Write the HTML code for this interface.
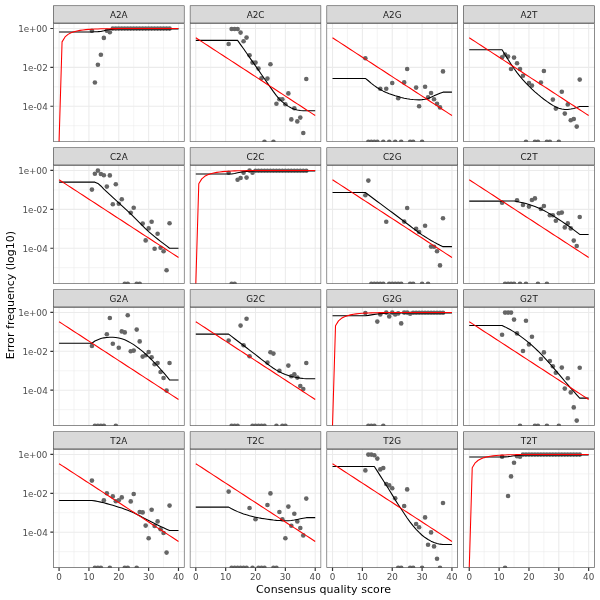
<!DOCTYPE html>
<html lang="en"><head><meta charset="utf-8"><title>Error rates</title>
<style>html,body{margin:0;padding:0;background:#fff}svg{display:block}text{font-family:"DejaVu Sans","Liberation Sans",sans-serif}</style></head><body>
<svg width="600" height="600" viewBox="0 0 600 600">
<rect width="600" height="600" fill="#fff"/>
<defs>
<clipPath id="p0"><rect x="53.1" y="23.25" width="131.37" height="118.6"/></clipPath>
<clipPath id="s0"><rect x="53.1" y="5.5" width="131.37" height="17.75"/></clipPath>
<clipPath id="p1"><rect x="189.82" y="23.25" width="131.37" height="118.6"/></clipPath>
<clipPath id="s1"><rect x="189.82" y="5.5" width="131.37" height="17.75"/></clipPath>
<clipPath id="p2"><rect x="326.55" y="23.25" width="131.37" height="118.6"/></clipPath>
<clipPath id="s2"><rect x="326.55" y="5.5" width="131.37" height="17.75"/></clipPath>
<clipPath id="p3"><rect x="463.27" y="23.25" width="131.37" height="118.6"/></clipPath>
<clipPath id="s3"><rect x="463.27" y="5.5" width="131.37" height="17.75"/></clipPath>
<clipPath id="p4"><rect x="53.1" y="165.22" width="131.37" height="118.6"/></clipPath>
<clipPath id="s4"><rect x="53.1" y="147.47" width="131.37" height="17.75"/></clipPath>
<clipPath id="p5"><rect x="189.82" y="165.22" width="131.37" height="118.6"/></clipPath>
<clipPath id="s5"><rect x="189.82" y="147.47" width="131.37" height="17.75"/></clipPath>
<clipPath id="p6"><rect x="326.55" y="165.22" width="131.37" height="118.6"/></clipPath>
<clipPath id="s6"><rect x="326.55" y="147.47" width="131.37" height="17.75"/></clipPath>
<clipPath id="p7"><rect x="463.27" y="165.22" width="131.37" height="118.6"/></clipPath>
<clipPath id="s7"><rect x="463.27" y="147.47" width="131.37" height="17.75"/></clipPath>
<clipPath id="p8"><rect x="53.1" y="307.19" width="131.37" height="118.6"/></clipPath>
<clipPath id="s8"><rect x="53.1" y="289.44" width="131.37" height="17.75"/></clipPath>
<clipPath id="p9"><rect x="189.82" y="307.19" width="131.37" height="118.6"/></clipPath>
<clipPath id="s9"><rect x="189.82" y="289.44" width="131.37" height="17.75"/></clipPath>
<clipPath id="p10"><rect x="326.55" y="307.19" width="131.37" height="118.6"/></clipPath>
<clipPath id="s10"><rect x="326.55" y="289.44" width="131.37" height="17.75"/></clipPath>
<clipPath id="p11"><rect x="463.27" y="307.19" width="131.37" height="118.6"/></clipPath>
<clipPath id="s11"><rect x="463.27" y="289.44" width="131.37" height="17.75"/></clipPath>
<clipPath id="p12"><rect x="53.1" y="449.16" width="131.37" height="118.6"/></clipPath>
<clipPath id="s12"><rect x="53.1" y="431.41" width="131.37" height="17.75"/></clipPath>
<clipPath id="p13"><rect x="189.82" y="449.16" width="131.37" height="118.6"/></clipPath>
<clipPath id="s13"><rect x="189.82" y="431.41" width="131.37" height="17.75"/></clipPath>
<clipPath id="p14"><rect x="326.55" y="449.16" width="131.37" height="118.6"/></clipPath>
<clipPath id="s14"><rect x="326.55" y="431.41" width="131.37" height="17.75"/></clipPath>
<clipPath id="p15"><rect x="463.27" y="449.16" width="131.37" height="118.6"/></clipPath>
<clipPath id="s15"><rect x="463.27" y="431.41" width="131.37" height="17.75"/></clipPath>
</defs>
<g clip-path="url(#p0)">
<path d="M74 23.25V141.85M103.86 23.25V141.85M133.71 23.25V141.85M163.57 23.25V141.85M53.1 47.94H184.47M53.1 86.82H184.47M53.1 125.7H184.47" stroke="#ebebeb" stroke-width="0.53" fill="none"/>
<path d="M59.07 23.25V141.85M88.93 23.25V141.85M118.78 23.25V141.85M148.64 23.25V141.85M178.5 23.25V141.85M53.1 28.5H184.47M53.1 67.38H184.47M53.1 106.26H184.47" stroke="#ebebeb" stroke-width="1.07" fill="none"/>
<g fill="#666"><circle cx="91.91" cy="30.8" r="2.31"/><circle cx="94.9" cy="82.5" r="2.31"/><circle cx="97.89" cy="64.7" r="2.31"/><circle cx="100.87" cy="54.7" r="2.31"/><circle cx="103.86" cy="37.9" r="2.31"/><circle cx="106.84" cy="30.7" r="2.31"/><circle cx="109.83" cy="32.2" r="2.31"/><circle cx="112.81" cy="28.6" r="2.31"/><circle cx="115.8" cy="28.6" r="2.31"/><circle cx="118.78" cy="28.6" r="2.31"/><circle cx="121.77" cy="28.6" r="2.31"/><circle cx="124.76" cy="28.6" r="2.31"/><circle cx="127.74" cy="28.6" r="2.31"/><circle cx="130.73" cy="28.6" r="2.31"/><circle cx="133.71" cy="28.6" r="2.31"/><circle cx="136.7" cy="28.6" r="2.31"/><circle cx="139.68" cy="28.6" r="2.31"/><circle cx="142.67" cy="28.6" r="2.31"/><circle cx="145.66" cy="28.6" r="2.31"/><circle cx="148.64" cy="28.6" r="2.31"/><circle cx="151.63" cy="28.6" r="2.31"/><circle cx="154.61" cy="28.6" r="2.31"/><circle cx="157.6" cy="28.6" r="2.31"/><circle cx="160.58" cy="28.6" r="2.31"/><circle cx="163.57" cy="28.6" r="2.31"/><circle cx="166.56" cy="28.6" r="2.31"/><circle cx="169.54" cy="28.6" r="2.31"/></g>
<polyline points="59.07,32 62.06,32 65.04,32 68.03,32 71.01,32 74,32 76.99,32 79.97,32 82.96,32 85.94,32 88.93,32 91.91,32 94.9,31.75 97.89,31.65 100.87,31.45 103.86,30.75 106.84,29.95 109.83,29.45 112.81,29.15 115.8,29 118.78,28.95 121.77,28.91 124.76,28.9 127.74,28.9 130.73,28.9 133.71,28.89 136.7,28.89 139.68,28.89 142.67,28.89 145.66,28.89 148.64,28.89 151.63,28.88 154.61,28.88 157.6,28.88 160.58,28.88 163.57,28.88 166.56,28.88 169.54,28.87 172.53,28.87 175.51,28.87 178.5,28.87" stroke="#000" stroke-width="1.07" fill="none" stroke-linejoin="round"/>
<polyline points="59.07,141.85 62.06,41.85 65.04,36.92 68.03,34.37 71.01,32.79 74,31.71 76.99,30.94 79.97,30.38 82.96,29.96 85.94,29.64 88.93,29.39 91.91,29.2 94.9,29.05 97.89,28.93 100.87,28.84 103.86,28.77 106.84,28.71 109.83,28.67 112.81,28.63 115.8,28.61 118.78,28.58 121.77,28.57 124.76,28.55 127.74,28.54 130.73,28.53 133.71,28.53 136.7,28.52 139.68,28.52 142.67,28.51 145.66,28.51 148.64,28.51 151.63,28.51 154.61,28.51 157.6,28.5 160.58,28.5 163.57,28.5 166.56,28.5 169.54,28.5 172.53,28.5 175.51,28.5 178.5,28.5" stroke="#f00" stroke-width="1.07" fill="none" stroke-linejoin="round"/>
<rect x="53.1" y="23.25" width="131.37" height="118.6" fill="none" stroke="#333" stroke-width="1.07"/>
</g>
<g clip-path="url(#s0)"><rect x="53.1" y="5.5" width="131.37" height="17.75" fill="#d9d9d9" stroke="#333" stroke-width="1.07"/></g>
<text x="118.78" y="18" font-size="8.8" fill="#1a1a1a" text-anchor="middle">A2A</text>
<text x="47.45" y="32" font-size="8.8" fill="#4d4d4d" text-anchor="end" textLength="29.28" lengthAdjust="spacing">1e+00</text>
<text x="47.8" y="71" font-size="8.8" fill="#4d4d4d" text-anchor="end">1e-02</text>
<text x="47.8" y="110" font-size="8.8" fill="#4d4d4d" text-anchor="end">1e-04</text>
<path d="M50.35 28.5H53.1M50.35 67.38H53.1M50.35 106.26H53.1" stroke="#333" stroke-width="1.2" fill="none"/>
<g clip-path="url(#p1)">
<path d="M210.72 23.25V141.85M240.58 23.25V141.85M270.44 23.25V141.85M300.3 23.25V141.85M189.82 47.94H321.19M189.82 86.82H321.19M189.82 125.7H321.19" stroke="#ebebeb" stroke-width="0.53" fill="none"/>
<path d="M195.8 23.25V141.85M225.65 23.25V141.85M255.51 23.25V141.85M285.37 23.25V141.85M315.22 23.25V141.85M189.82 28.5H321.19M189.82 67.38H321.19M189.82 106.26H321.19" stroke="#ebebeb" stroke-width="1.07" fill="none"/>
<g fill="#666"><circle cx="228.64" cy="44" r="2.31"/><circle cx="231.62" cy="29" r="2.31"/><circle cx="234.61" cy="29" r="2.31"/><circle cx="237.6" cy="29" r="2.31"/><circle cx="240.58" cy="32.6" r="2.31"/><circle cx="243.57" cy="41.2" r="2.31"/><circle cx="246.55" cy="37.6" r="2.31"/><circle cx="249.54" cy="55.2" r="2.31"/><circle cx="252.52" cy="62.6" r="2.31"/><circle cx="255.51" cy="62.6" r="2.31"/><circle cx="258.5" cy="68.6" r="2.31"/><circle cx="261.48" cy="78.2" r="2.31"/><circle cx="267.45" cy="78.6" r="2.31"/><circle cx="270.44" cy="64.2" r="2.31"/><circle cx="276.41" cy="103.8" r="2.31"/><circle cx="279.4" cy="99.2" r="2.31"/><circle cx="282.38" cy="99.2" r="2.31"/><circle cx="285.37" cy="104.2" r="2.31"/><circle cx="288.35" cy="93.4" r="2.31"/><circle cx="291.34" cy="119.4" r="2.31"/><circle cx="294.32" cy="108.2" r="2.31"/><circle cx="297.31" cy="121.4" r="2.31"/><circle cx="300.3" cy="117.6" r="2.31"/><circle cx="303.28" cy="133" r="2.31"/><circle cx="306.27" cy="79" r="2.31"/><circle cx="264.47" cy="141.85" r="2.31"/><circle cx="273.42" cy="141.85" r="2.31"/></g>
<polyline points="195.8,40.35 198.78,40.35 201.77,40.35 204.75,40.35 207.74,40.35 210.72,40.35 213.71,40.35 216.7,40.35 219.68,40.35 222.67,40.35 225.65,40.35 228.64,40.35 231.62,40.35 234.61,40.35 237.6,40.35 240.58,44.58 243.57,48.81 246.55,53.06 249.54,57.32 252.52,61.58 255.51,65.85 258.5,70.15 261.48,74.47 264.47,78.8 267.45,83.1 270.44,87.35 273.42,91.63 276.41,95.65 279.4,99.05 282.38,101.95 285.37,104.35 288.35,106.35 291.34,107.95 294.32,109.15 297.31,109.95 300.3,110.45 303.28,110.75 306.27,110.75 309.25,110.75 312.24,110.75 315.22,110.75" stroke="#000" stroke-width="1.07" fill="none" stroke-linejoin="round"/>
<polyline points="195.8,37.78 198.78,39.72 201.77,41.66 204.75,43.61 207.74,45.55 210.72,47.5 213.71,49.44 216.7,51.38 219.68,53.33 222.67,55.27 225.65,57.22 228.64,59.16 231.62,61.1 234.61,63.05 237.6,64.99 240.58,66.94 243.57,68.88 246.55,70.82 249.54,72.77 252.52,74.71 255.51,76.66 258.5,78.6 261.48,80.54 264.47,82.49 267.45,84.43 270.44,86.38 273.42,88.32 276.41,90.26 279.4,92.21 282.38,94.15 285.37,96.1 288.35,98.04 291.34,99.98 294.32,101.93 297.31,103.87 300.3,105.82 303.28,107.76 306.27,109.7 309.25,111.65 312.24,113.59 315.22,115.54" stroke="#f00" stroke-width="1.07" fill="none" stroke-linejoin="round"/>
<rect x="189.82" y="23.25" width="131.37" height="118.6" fill="none" stroke="#333" stroke-width="1.07"/>
</g>
<g clip-path="url(#s1)"><rect x="189.82" y="5.5" width="131.37" height="17.75" fill="#d9d9d9" stroke="#333" stroke-width="1.07"/></g>
<text x="255.51" y="18" font-size="8.8" fill="#1a1a1a" text-anchor="middle">A2C</text>
<g clip-path="url(#p2)">
<path d="M347.45 23.25V141.85M377.31 23.25V141.85M407.16 23.25V141.85M437.02 23.25V141.85M326.55 47.94H457.92M326.55 86.82H457.92M326.55 125.7H457.92" stroke="#ebebeb" stroke-width="0.53" fill="none"/>
<path d="M332.52 23.25V141.85M362.38 23.25V141.85M392.24 23.25V141.85M422.09 23.25V141.85M451.95 23.25V141.85M326.55 28.5H457.92M326.55 67.38H457.92M326.55 106.26H457.92" stroke="#ebebeb" stroke-width="1.07" fill="none"/>
<g fill="#666"><circle cx="365.36" cy="58.2" r="2.31"/><circle cx="380.29" cy="88.8" r="2.31"/><circle cx="386.26" cy="88.8" r="2.31"/><circle cx="392.24" cy="83" r="2.31"/><circle cx="398.21" cy="98.2" r="2.31"/><circle cx="404.18" cy="82.4" r="2.31"/><circle cx="407.16" cy="69" r="2.31"/><circle cx="416.12" cy="87.6" r="2.31"/><circle cx="419.11" cy="106.2" r="2.31"/><circle cx="425.08" cy="86.8" r="2.31"/><circle cx="428.06" cy="97.4" r="2.31"/><circle cx="431.05" cy="93" r="2.31"/><circle cx="434.03" cy="99.2" r="2.31"/><circle cx="437.02" cy="103.8" r="2.31"/><circle cx="440.01" cy="107.4" r="2.31"/><circle cx="442.99" cy="71.4" r="2.31"/><circle cx="368.35" cy="141.85" r="2.31"/><circle cx="371.34" cy="141.85" r="2.31"/><circle cx="374.32" cy="141.85" r="2.31"/><circle cx="377.31" cy="141.85" r="2.31"/><circle cx="383.28" cy="141.85" r="2.31"/><circle cx="389.25" cy="141.85" r="2.31"/><circle cx="395.22" cy="141.85" r="2.31"/><circle cx="401.19" cy="141.85" r="2.31"/><circle cx="410.15" cy="141.85" r="2.31"/><circle cx="413.13" cy="141.85" r="2.31"/><circle cx="422.09" cy="141.85" r="2.31"/></g>
<polyline points="332.52,78.45 335.51,78.45 338.49,78.45 341.48,78.45 344.46,78.45 347.45,78.45 350.44,78.45 353.42,78.45 356.41,78.45 359.39,78.45 362.38,78.45 365.36,78.45 368.35,80.75 371.34,83.35 374.32,85.65 377.31,87.75 380.29,89.55 383.28,91.15 386.26,92.45 389.25,93.65 392.24,94.65 395.22,95.65 398.21,96.55 401.19,97.45 404.18,98.15 407.16,98.75 410.15,99.25 413.13,99.55 416.12,99.75 419.11,99.85 422.09,99.65 425.08,99.25 428.06,98.45 431.05,97.15 434.03,95.85 437.02,94.45 440.01,93.15 442.99,92.15 445.98,92.15 448.96,92.15 451.95,92.15" stroke="#000" stroke-width="1.07" fill="none" stroke-linejoin="round"/>
<polyline points="332.52,37.78 335.51,39.72 338.49,41.66 341.48,43.61 344.46,45.55 347.45,47.5 350.44,49.44 353.42,51.38 356.41,53.33 359.39,55.27 362.38,57.22 365.36,59.16 368.35,61.1 371.34,63.05 374.32,64.99 377.31,66.94 380.29,68.88 383.28,70.82 386.26,72.77 389.25,74.71 392.24,76.66 395.22,78.6 398.21,80.54 401.19,82.49 404.18,84.43 407.16,86.38 410.15,88.32 413.13,90.26 416.12,92.21 419.11,94.15 422.09,96.1 425.08,98.04 428.06,99.98 431.05,101.93 434.03,103.87 437.02,105.82 440.01,107.76 442.99,109.7 445.98,111.65 448.96,113.59 451.95,115.54" stroke="#f00" stroke-width="1.07" fill="none" stroke-linejoin="round"/>
<rect x="326.55" y="23.25" width="131.37" height="118.6" fill="none" stroke="#333" stroke-width="1.07"/>
</g>
<g clip-path="url(#s2)"><rect x="326.55" y="5.5" width="131.37" height="17.75" fill="#d9d9d9" stroke="#333" stroke-width="1.07"/></g>
<text x="392.24" y="18" font-size="8.8" fill="#1a1a1a" text-anchor="middle">A2G</text>
<g clip-path="url(#p3)">
<path d="M484.17 23.25V141.85M514.03 23.25V141.85M543.89 23.25V141.85M573.75 23.25V141.85M463.27 47.94H594.64M463.27 86.82H594.64M463.27 125.7H594.64" stroke="#ebebeb" stroke-width="0.53" fill="none"/>
<path d="M469.25 23.25V141.85M499.1 23.25V141.85M528.96 23.25V141.85M558.82 23.25V141.85M588.67 23.25V141.85M463.27 28.5H594.64M463.27 67.38H594.64M463.27 106.26H594.64" stroke="#ebebeb" stroke-width="1.07" fill="none"/>
<g fill="#666"><circle cx="502.09" cy="57.2" r="2.31"/><circle cx="505.07" cy="54.6" r="2.31"/><circle cx="508.06" cy="56.6" r="2.31"/><circle cx="511.05" cy="69" r="2.31"/><circle cx="514.03" cy="57.6" r="2.31"/><circle cx="517.02" cy="63.2" r="2.31"/><circle cx="520" cy="69" r="2.31"/><circle cx="522.99" cy="75.8" r="2.31"/><circle cx="528.96" cy="83" r="2.31"/><circle cx="531.95" cy="85.6" r="2.31"/><circle cx="540.9" cy="82.6" r="2.31"/><circle cx="543.89" cy="71" r="2.31"/><circle cx="552.85" cy="99.6" r="2.31"/><circle cx="555.83" cy="108.6" r="2.31"/><circle cx="561.8" cy="91.8" r="2.31"/><circle cx="564.79" cy="113.6" r="2.31"/><circle cx="567.77" cy="104.4" r="2.31"/><circle cx="570.76" cy="120.2" r="2.31"/><circle cx="573.75" cy="119" r="2.31"/><circle cx="576.73" cy="126.6" r="2.31"/><circle cx="579.72" cy="79.6" r="2.31"/><circle cx="525.97" cy="141.85" r="2.31"/><circle cx="534.93" cy="141.85" r="2.31"/><circle cx="537.92" cy="141.85" r="2.31"/><circle cx="546.87" cy="141.85" r="2.31"/><circle cx="549.86" cy="141.85" r="2.31"/><circle cx="558.82" cy="141.85" r="2.31"/></g>
<polyline points="469.25,49.75 472.23,49.75 475.22,49.75 478.2,49.75 481.19,49.75 484.17,49.75 487.16,49.75 490.15,49.75 493.13,49.75 496.12,49.75 499.1,49.75 502.09,49.75 505.07,54.68 508.06,59.45 511.05,64.12 514.03,68.55 517.02,72.66 520,76.45 522.99,79.89 525.97,83.09 528.96,86.15 531.95,89.09 534.93,91.85 537.92,94.45 540.9,96.92 543.89,99.25 546.87,101.43 549.86,103.45 552.85,105.4 555.83,107.05 558.82,108.15 561.8,109.05 564.79,109.45 567.77,109.45 570.76,109.05 573.75,108.45 576.73,107.45 579.72,106.45 582.7,106.45 585.69,106.45 588.67,106.45" stroke="#000" stroke-width="1.07" fill="none" stroke-linejoin="round"/>
<polyline points="469.25,37.78 472.23,39.72 475.22,41.66 478.2,43.61 481.19,45.55 484.17,47.5 487.16,49.44 490.15,51.38 493.13,53.33 496.12,55.27 499.1,57.22 502.09,59.16 505.07,61.1 508.06,63.05 511.05,64.99 514.03,66.94 517.02,68.88 520,70.82 522.99,72.77 525.97,74.71 528.96,76.66 531.95,78.6 534.93,80.54 537.92,82.49 540.9,84.43 543.89,86.38 546.87,88.32 549.86,90.26 552.85,92.21 555.83,94.15 558.82,96.1 561.8,98.04 564.79,99.98 567.77,101.93 570.76,103.87 573.75,105.82 576.73,107.76 579.72,109.7 582.7,111.65 585.69,113.59 588.67,115.54" stroke="#f00" stroke-width="1.07" fill="none" stroke-linejoin="round"/>
<rect x="463.27" y="23.25" width="131.37" height="118.6" fill="none" stroke="#333" stroke-width="1.07"/>
</g>
<g clip-path="url(#s3)"><rect x="463.27" y="5.5" width="131.37" height="17.75" fill="#d9d9d9" stroke="#333" stroke-width="1.07"/></g>
<text x="528.96" y="18" font-size="8.8" fill="#1a1a1a" text-anchor="middle">A2T</text>
<g clip-path="url(#p4)">
<path d="M74 165.22V283.82M103.86 165.22V283.82M133.71 165.22V283.82M163.57 165.22V283.82M53.1 189.91H184.47M53.1 228.79H184.47M53.1 267.67H184.47" stroke="#ebebeb" stroke-width="0.53" fill="none"/>
<path d="M59.07 165.22V283.82M88.93 165.22V283.82M118.78 165.22V283.82M148.64 165.22V283.82M178.5 165.22V283.82M53.1 170.47H184.47M53.1 209.35H184.47M53.1 248.23H184.47" stroke="#ebebeb" stroke-width="1.07" fill="none"/>
<g fill="#666"><circle cx="91.91" cy="189.6" r="2.31"/><circle cx="94.9" cy="173.8" r="2.31"/><circle cx="97.89" cy="170.6" r="2.31"/><circle cx="100.87" cy="174" r="2.31"/><circle cx="103.86" cy="175.2" r="2.31"/><circle cx="106.84" cy="186.6" r="2.31"/><circle cx="109.83" cy="175.4" r="2.31"/><circle cx="112.81" cy="204.2" r="2.31"/><circle cx="115.8" cy="184.2" r="2.31"/><circle cx="118.78" cy="203.8" r="2.31"/><circle cx="121.77" cy="199.2" r="2.31"/><circle cx="130.73" cy="212.8" r="2.31"/><circle cx="133.71" cy="207.8" r="2.31"/><circle cx="142.67" cy="223.6" r="2.31"/><circle cx="145.66" cy="240.4" r="2.31"/><circle cx="148.64" cy="228.4" r="2.31"/><circle cx="151.63" cy="221.8" r="2.31"/><circle cx="154.61" cy="248.8" r="2.31"/><circle cx="157.6" cy="233.8" r="2.31"/><circle cx="160.58" cy="247.8" r="2.31"/><circle cx="163.57" cy="251.2" r="2.31"/><circle cx="166.56" cy="270.2" r="2.31"/><circle cx="169.54" cy="223.2" r="2.31"/><circle cx="124.76" cy="283.82" r="2.31"/><circle cx="127.74" cy="283.82" r="2.31"/><circle cx="136.7" cy="283.82" r="2.31"/><circle cx="139.68" cy="283.82" r="2.31"/></g>
<polyline points="59.07,182.15 62.06,182.15 65.04,182.15 68.03,182.15 71.01,182.15 74,182.15 76.99,182.15 79.97,182.15 82.96,182.15 85.94,182.15 88.93,182.15 91.91,182.15 94.9,182.15 97.89,183.45 100.87,185.98 103.86,189.05 106.84,191.83 109.83,194.59 112.81,197.34 115.8,200.1 118.78,202.85 121.77,205.58 124.76,208.28 127.74,211.02 130.73,213.85 133.71,216.85 136.7,219.86 139.68,222.89 142.67,225.89 145.66,228.8 148.64,231.55 151.63,234.13 154.61,236.6 157.6,238.98 160.58,241.32 163.57,243.65 166.56,245.95 169.54,248.2 172.53,248.2 175.51,248.2 178.5,248.2" stroke="#000" stroke-width="1.07" fill="none" stroke-linejoin="round"/>
<polyline points="59.07,179.75 62.06,181.69 65.04,183.63 68.03,185.58 71.01,187.52 74,189.47 76.99,191.41 79.97,193.35 82.96,195.3 85.94,197.24 88.93,199.19 91.91,201.13 94.9,203.07 97.89,205.02 100.87,206.96 103.86,208.91 106.84,210.85 109.83,212.79 112.81,214.74 115.8,216.68 118.78,218.63 121.77,220.57 124.76,222.51 127.74,224.46 130.73,226.4 133.71,228.35 136.7,230.29 139.68,232.23 142.67,234.18 145.66,236.12 148.64,238.07 151.63,240.01 154.61,241.95 157.6,243.9 160.58,245.84 163.57,247.79 166.56,249.73 169.54,251.67 172.53,253.62 175.51,255.56 178.5,257.51" stroke="#f00" stroke-width="1.07" fill="none" stroke-linejoin="round"/>
<rect x="53.1" y="165.22" width="131.37" height="118.6" fill="none" stroke="#333" stroke-width="1.07"/>
</g>
<g clip-path="url(#s4)"><rect x="53.1" y="147.47" width="131.37" height="17.75" fill="#d9d9d9" stroke="#333" stroke-width="1.07"/></g>
<text x="118.78" y="160" font-size="8.8" fill="#1a1a1a" text-anchor="middle">C2A</text>
<text x="47.45" y="174" font-size="8.8" fill="#4d4d4d" text-anchor="end" textLength="29.28" lengthAdjust="spacing">1e+00</text>
<text x="47.8" y="213" font-size="8.8" fill="#4d4d4d" text-anchor="end">1e-02</text>
<text x="47.8" y="252" font-size="8.8" fill="#4d4d4d" text-anchor="end">1e-04</text>
<path d="M50.35 170.47H53.1M50.35 209.35H53.1M50.35 248.23H53.1" stroke="#333" stroke-width="1.2" fill="none"/>
<g clip-path="url(#p5)">
<path d="M210.72 165.22V283.82M240.58 165.22V283.82M270.44 165.22V283.82M300.3 165.22V283.82M189.82 189.91H321.19M189.82 228.79H321.19M189.82 267.67H321.19" stroke="#ebebeb" stroke-width="0.53" fill="none"/>
<path d="M195.8 165.22V283.82M225.65 165.22V283.82M255.51 165.22V283.82M285.37 165.22V283.82M315.22 165.22V283.82M189.82 170.47H321.19M189.82 209.35H321.19M189.82 248.23H321.19" stroke="#ebebeb" stroke-width="1.07" fill="none"/>
<g fill="#666"><circle cx="228.64" cy="172.8" r="2.31"/><circle cx="237.6" cy="179.8" r="2.31"/><circle cx="240.58" cy="178" r="2.31"/><circle cx="243.57" cy="172.8" r="2.31"/><circle cx="246.55" cy="177.6" r="2.31"/><circle cx="249.54" cy="170.6" r="2.31"/><circle cx="252.52" cy="172.8" r="2.31"/><circle cx="255.51" cy="170.7" r="2.31"/><circle cx="258.5" cy="170.7" r="2.31"/><circle cx="261.48" cy="170.7" r="2.31"/><circle cx="264.47" cy="170.7" r="2.31"/><circle cx="267.45" cy="170.7" r="2.31"/><circle cx="270.44" cy="170.7" r="2.31"/><circle cx="273.42" cy="170.7" r="2.31"/><circle cx="276.41" cy="170.7" r="2.31"/><circle cx="279.4" cy="170.7" r="2.31"/><circle cx="282.38" cy="170.7" r="2.31"/><circle cx="285.37" cy="170.7" r="2.31"/><circle cx="288.35" cy="170.7" r="2.31"/><circle cx="291.34" cy="170.7" r="2.31"/><circle cx="294.32" cy="170.7" r="2.31"/><circle cx="297.31" cy="170.7" r="2.31"/><circle cx="300.3" cy="170.7" r="2.31"/><circle cx="303.28" cy="170.7" r="2.31"/><circle cx="306.27" cy="170.7" r="2.31"/><circle cx="231.62" cy="283.82" r="2.31"/><circle cx="234.61" cy="283.82" r="2.31"/></g>
<polyline points="195.8,174 198.78,174 201.77,174 204.75,174 207.74,174 210.72,174 213.71,174 216.7,174 219.68,174 222.67,174 225.65,174 228.64,174 231.62,173.95 234.61,173.45 237.6,172.75 240.58,172.15 243.57,171.75 246.55,171.45 249.54,171.25 252.52,171.1 255.51,171.02 258.5,170.97 261.48,170.95 264.47,170.95 267.45,170.94 270.44,170.94 273.42,170.94 276.41,170.94 279.4,170.93 282.38,170.93 285.37,170.93 288.35,170.93 291.34,170.92 294.32,170.92 297.31,170.92 300.3,170.91 303.28,170.91 306.27,170.91 309.25,170.91 312.24,170.9 315.22,170.9" stroke="#000" stroke-width="1.07" fill="none" stroke-linejoin="round"/>
<polyline points="195.8,283.82 198.78,183.82 201.77,178.89 204.75,176.34 207.74,174.76 210.72,173.68 213.71,172.91 216.7,172.35 219.68,171.93 222.67,171.61 225.65,171.36 228.64,171.17 231.62,171.02 234.61,170.9 237.6,170.81 240.58,170.74 243.57,170.68 246.55,170.64 249.54,170.6 252.52,170.58 255.51,170.55 258.5,170.54 261.48,170.52 264.47,170.51 267.45,170.5 270.44,170.5 273.42,170.49 276.41,170.49 279.4,170.48 282.38,170.48 285.37,170.48 288.35,170.48 291.34,170.48 294.32,170.47 297.31,170.47 300.3,170.47 303.28,170.47 306.27,170.47 309.25,170.47 312.24,170.47 315.22,170.47" stroke="#f00" stroke-width="1.07" fill="none" stroke-linejoin="round"/>
<rect x="189.82" y="165.22" width="131.37" height="118.6" fill="none" stroke="#333" stroke-width="1.07"/>
</g>
<g clip-path="url(#s5)"><rect x="189.82" y="147.47" width="131.37" height="17.75" fill="#d9d9d9" stroke="#333" stroke-width="1.07"/></g>
<text x="255.51" y="160" font-size="8.8" fill="#1a1a1a" text-anchor="middle">C2C</text>
<g clip-path="url(#p6)">
<path d="M347.45 165.22V283.82M377.31 165.22V283.82M407.16 165.22V283.82M437.02 165.22V283.82M326.55 189.91H457.92M326.55 228.79H457.92M326.55 267.67H457.92" stroke="#ebebeb" stroke-width="0.53" fill="none"/>
<path d="M332.52 165.22V283.82M362.38 165.22V283.82M392.24 165.22V283.82M422.09 165.22V283.82M451.95 165.22V283.82M326.55 170.47H457.92M326.55 209.35H457.92M326.55 248.23H457.92" stroke="#ebebeb" stroke-width="1.07" fill="none"/>
<g fill="#666"><circle cx="365.36" cy="195.2" r="2.31"/><circle cx="368.35" cy="180.6" r="2.31"/><circle cx="386.26" cy="221.8" r="2.31"/><circle cx="404.18" cy="221.6" r="2.31"/><circle cx="407.16" cy="208" r="2.31"/><circle cx="416.12" cy="228.8" r="2.31"/><circle cx="419.11" cy="232" r="2.31"/><circle cx="425.08" cy="225.8" r="2.31"/><circle cx="431.05" cy="246.6" r="2.31"/><circle cx="434.03" cy="246.8" r="2.31"/><circle cx="437.02" cy="251.2" r="2.31"/><circle cx="440.01" cy="265.4" r="2.31"/><circle cx="442.99" cy="218.2" r="2.31"/><circle cx="371.34" cy="283.82" r="2.31"/><circle cx="374.32" cy="283.82" r="2.31"/><circle cx="377.31" cy="283.82" r="2.31"/><circle cx="380.29" cy="283.82" r="2.31"/><circle cx="383.28" cy="283.82" r="2.31"/><circle cx="389.25" cy="283.82" r="2.31"/><circle cx="392.24" cy="283.82" r="2.31"/><circle cx="395.22" cy="283.82" r="2.31"/><circle cx="398.21" cy="283.82" r="2.31"/><circle cx="401.19" cy="283.82" r="2.31"/><circle cx="410.15" cy="283.82" r="2.31"/><circle cx="413.13" cy="283.82" r="2.31"/><circle cx="422.09" cy="283.82" r="2.31"/><circle cx="428.06" cy="283.82" r="2.31"/></g>
<polyline points="332.52,192.45 335.51,192.45 338.49,192.45 341.48,192.45 344.46,192.45 347.45,192.45 350.44,192.45 353.42,192.45 356.41,192.45 359.39,192.45 362.38,192.45 365.36,192.45 368.35,194.71 371.34,196.96 374.32,199.21 377.31,201.45 380.29,203.68 383.28,205.9 386.26,208.11 389.25,210.33 392.24,212.55 395.22,214.78 398.21,217.02 401.19,219.25 404.18,221.5 407.16,223.75 410.15,226.03 413.13,228.31 416.12,230.55 419.11,232.75 422.09,234.85 425.08,236.81 428.06,238.67 431.05,240.45 434.03,242.15 437.02,243.75 440.01,245.25 442.99,246.65 445.98,246.65 448.96,246.65 451.95,246.65" stroke="#000" stroke-width="1.07" fill="none" stroke-linejoin="round"/>
<polyline points="332.52,179.75 335.51,181.69 338.49,183.63 341.48,185.58 344.46,187.52 347.45,189.47 350.44,191.41 353.42,193.35 356.41,195.3 359.39,197.24 362.38,199.19 365.36,201.13 368.35,203.07 371.34,205.02 374.32,206.96 377.31,208.91 380.29,210.85 383.28,212.79 386.26,214.74 389.25,216.68 392.24,218.63 395.22,220.57 398.21,222.51 401.19,224.46 404.18,226.4 407.16,228.35 410.15,230.29 413.13,232.23 416.12,234.18 419.11,236.12 422.09,238.07 425.08,240.01 428.06,241.95 431.05,243.9 434.03,245.84 437.02,247.79 440.01,249.73 442.99,251.67 445.98,253.62 448.96,255.56 451.95,257.51" stroke="#f00" stroke-width="1.07" fill="none" stroke-linejoin="round"/>
<rect x="326.55" y="165.22" width="131.37" height="118.6" fill="none" stroke="#333" stroke-width="1.07"/>
</g>
<g clip-path="url(#s6)"><rect x="326.55" y="147.47" width="131.37" height="17.75" fill="#d9d9d9" stroke="#333" stroke-width="1.07"/></g>
<text x="392.24" y="160" font-size="8.8" fill="#1a1a1a" text-anchor="middle">C2G</text>
<g clip-path="url(#p7)">
<path d="M484.17 165.22V283.82M514.03 165.22V283.82M543.89 165.22V283.82M573.75 165.22V283.82M463.27 189.91H594.64M463.27 228.79H594.64M463.27 267.67H594.64" stroke="#ebebeb" stroke-width="0.53" fill="none"/>
<path d="M469.25 165.22V283.82M499.1 165.22V283.82M528.96 165.22V283.82M558.82 165.22V283.82M588.67 165.22V283.82M463.27 170.47H594.64M463.27 209.35H594.64M463.27 248.23H594.64" stroke="#ebebeb" stroke-width="1.07" fill="none"/>
<g fill="#666"><circle cx="502.09" cy="202.8" r="2.31"/><circle cx="517.02" cy="200.2" r="2.31"/><circle cx="522.99" cy="205" r="2.31"/><circle cx="528.96" cy="206.6" r="2.31"/><circle cx="531.95" cy="200" r="2.31"/><circle cx="534.93" cy="198.4" r="2.31"/><circle cx="540.9" cy="209" r="2.31"/><circle cx="543.89" cy="206" r="2.31"/><circle cx="549.86" cy="215.2" r="2.31"/><circle cx="552.85" cy="215.2" r="2.31"/><circle cx="555.83" cy="220.8" r="2.31"/><circle cx="558.82" cy="213.2" r="2.31"/><circle cx="561.8" cy="212.6" r="2.31"/><circle cx="564.79" cy="227.4" r="2.31"/><circle cx="567.77" cy="223.4" r="2.31"/><circle cx="570.76" cy="228.4" r="2.31"/><circle cx="573.75" cy="240.6" r="2.31"/><circle cx="576.73" cy="246" r="2.31"/><circle cx="579.72" cy="217" r="2.31"/><circle cx="505.07" cy="283.82" r="2.31"/><circle cx="508.06" cy="283.82" r="2.31"/><circle cx="511.05" cy="283.82" r="2.31"/><circle cx="514.03" cy="283.82" r="2.31"/><circle cx="520" cy="283.82" r="2.31"/><circle cx="525.97" cy="283.82" r="2.31"/><circle cx="537.92" cy="283.82" r="2.31"/><circle cx="546.87" cy="283.82" r="2.31"/></g>
<polyline points="469.25,201.15 472.23,201.15 475.22,201.15 478.2,201.15 481.19,201.15 484.17,201.15 487.16,201.15 490.15,201.15 493.13,201.15 496.12,201.15 499.1,201.15 502.09,201.15 505.07,201.01 508.06,200.95 511.05,200.98 514.03,201.05 517.02,201.46 520,202.15 522.99,202.83 525.97,203.6 528.96,204.45 531.95,205.43 534.93,206.55 537.92,207.77 540.9,209.11 543.89,210.55 546.87,212.14 549.86,213.85 552.85,215.65 555.83,217.53 558.82,219.45 561.8,221.42 564.79,223.45 567.77,225.53 570.76,227.66 573.75,229.85 576.73,232.11 579.72,234.45 582.7,234.45 585.69,234.45 588.67,234.45" stroke="#000" stroke-width="1.07" fill="none" stroke-linejoin="round"/>
<polyline points="469.25,179.75 472.23,181.69 475.22,183.63 478.2,185.58 481.19,187.52 484.17,189.47 487.16,191.41 490.15,193.35 493.13,195.3 496.12,197.24 499.1,199.19 502.09,201.13 505.07,203.07 508.06,205.02 511.05,206.96 514.03,208.91 517.02,210.85 520,212.79 522.99,214.74 525.97,216.68 528.96,218.63 531.95,220.57 534.93,222.51 537.92,224.46 540.9,226.4 543.89,228.35 546.87,230.29 549.86,232.23 552.85,234.18 555.83,236.12 558.82,238.07 561.8,240.01 564.79,241.95 567.77,243.9 570.76,245.84 573.75,247.79 576.73,249.73 579.72,251.67 582.7,253.62 585.69,255.56 588.67,257.51" stroke="#f00" stroke-width="1.07" fill="none" stroke-linejoin="round"/>
<rect x="463.27" y="165.22" width="131.37" height="118.6" fill="none" stroke="#333" stroke-width="1.07"/>
</g>
<g clip-path="url(#s7)"><rect x="463.27" y="147.47" width="131.37" height="17.75" fill="#d9d9d9" stroke="#333" stroke-width="1.07"/></g>
<text x="528.96" y="160" font-size="8.8" fill="#1a1a1a" text-anchor="middle">C2T</text>
<g clip-path="url(#p8)">
<path d="M74 307.19V425.79M103.86 307.19V425.79M133.71 307.19V425.79M163.57 307.19V425.79M53.1 331.88H184.47M53.1 370.76H184.47M53.1 409.64H184.47" stroke="#ebebeb" stroke-width="0.53" fill="none"/>
<path d="M59.07 307.19V425.79M88.93 307.19V425.79M118.78 307.19V425.79M148.64 307.19V425.79M178.5 307.19V425.79M53.1 312.44H184.47M53.1 351.32H184.47M53.1 390.2H184.47" stroke="#ebebeb" stroke-width="1.07" fill="none"/>
<g fill="#666"><circle cx="91.91" cy="346" r="2.31"/><circle cx="106.84" cy="334.2" r="2.31"/><circle cx="109.83" cy="318" r="2.31"/><circle cx="112.81" cy="343.8" r="2.31"/><circle cx="118.78" cy="347.8" r="2.31"/><circle cx="121.77" cy="331.4" r="2.31"/><circle cx="124.76" cy="332.4" r="2.31"/><circle cx="127.74" cy="315.2" r="2.31"/><circle cx="130.73" cy="351.2" r="2.31"/><circle cx="133.71" cy="350.6" r="2.31"/><circle cx="136.7" cy="329.6" r="2.31"/><circle cx="139.68" cy="341.4" r="2.31"/><circle cx="142.67" cy="356.6" r="2.31"/><circle cx="145.66" cy="355.2" r="2.31"/><circle cx="148.64" cy="352" r="2.31"/><circle cx="151.63" cy="357.2" r="2.31"/><circle cx="154.61" cy="364.2" r="2.31"/><circle cx="157.6" cy="363" r="2.31"/><circle cx="160.58" cy="372" r="2.31"/><circle cx="163.57" cy="378" r="2.31"/><circle cx="166.56" cy="390.6" r="2.31"/><circle cx="169.54" cy="363" r="2.31"/><circle cx="94.9" cy="425.79" r="2.31"/><circle cx="97.89" cy="425.79" r="2.31"/><circle cx="100.87" cy="425.79" r="2.31"/><circle cx="103.86" cy="425.79" r="2.31"/><circle cx="115.8" cy="425.79" r="2.31"/></g>
<polyline points="59.07,343.25 62.06,343.25 65.04,343.25 68.03,343.25 71.01,343.25 74,343.25 76.99,343.25 79.97,343.25 82.96,343.25 85.94,343.25 88.93,343.25 91.91,343.25 94.9,341.05 97.89,339.65 100.87,338.55 103.86,337.85 106.84,337.45 109.83,337.25 112.81,337.25 115.8,337.45 118.78,338.05 121.77,338.85 124.76,339.85 127.74,341.25 130.73,342.85 133.71,344.65 136.7,346.85 139.68,349.05 142.67,351.45 145.66,354.05 148.64,356.85 151.63,359.75 154.61,362.85 157.6,365.85 160.58,369.25 163.57,372.55 166.56,376.15 169.54,379.95 172.53,379.95 175.51,379.95 178.5,379.95" stroke="#000" stroke-width="1.07" fill="none" stroke-linejoin="round"/>
<polyline points="59.07,321.72 62.06,323.66 65.04,325.6 68.03,327.55 71.01,329.49 74,331.44 76.99,333.38 79.97,335.32 82.96,337.27 85.94,339.21 88.93,341.16 91.91,343.1 94.9,345.04 97.89,346.99 100.87,348.93 103.86,350.88 106.84,352.82 109.83,354.76 112.81,356.71 115.8,358.65 118.78,360.6 121.77,362.54 124.76,364.48 127.74,366.43 130.73,368.37 133.71,370.32 136.7,372.26 139.68,374.2 142.67,376.15 145.66,378.09 148.64,380.04 151.63,381.98 154.61,383.92 157.6,385.87 160.58,387.81 163.57,389.76 166.56,391.7 169.54,393.64 172.53,395.59 175.51,397.53 178.5,399.48" stroke="#f00" stroke-width="1.07" fill="none" stroke-linejoin="round"/>
<rect x="53.1" y="307.19" width="131.37" height="118.6" fill="none" stroke="#333" stroke-width="1.07"/>
</g>
<g clip-path="url(#s8)"><rect x="53.1" y="289.44" width="131.37" height="17.75" fill="#d9d9d9" stroke="#333" stroke-width="1.07"/></g>
<text x="118.78" y="302" font-size="8.8" fill="#1a1a1a" text-anchor="middle">G2A</text>
<text x="47.45" y="316" font-size="8.8" fill="#4d4d4d" text-anchor="end" textLength="29.28" lengthAdjust="spacing">1e+00</text>
<text x="47.8" y="355" font-size="8.8" fill="#4d4d4d" text-anchor="end">1e-02</text>
<text x="47.8" y="394" font-size="8.8" fill="#4d4d4d" text-anchor="end">1e-04</text>
<path d="M50.35 312.44H53.1M50.35 351.32H53.1M50.35 390.2H53.1" stroke="#333" stroke-width="1.2" fill="none"/>
<g clip-path="url(#p9)">
<path d="M210.72 307.19V425.79M240.58 307.19V425.79M270.44 307.19V425.79M300.3 307.19V425.79M189.82 331.88H321.19M189.82 370.76H321.19M189.82 409.64H321.19" stroke="#ebebeb" stroke-width="0.53" fill="none"/>
<path d="M195.8 307.19V425.79M225.65 307.19V425.79M255.51 307.19V425.79M285.37 307.19V425.79M315.22 307.19V425.79M189.82 312.44H321.19M189.82 351.32H321.19M189.82 390.2H321.19" stroke="#ebebeb" stroke-width="1.07" fill="none"/>
<g fill="#666"><circle cx="228.64" cy="340.6" r="2.31"/><circle cx="240.58" cy="325.6" r="2.31"/><circle cx="243.57" cy="345.2" r="2.31"/><circle cx="246.55" cy="318.8" r="2.31"/><circle cx="249.54" cy="356.2" r="2.31"/><circle cx="267.45" cy="362.6" r="2.31"/><circle cx="270.44" cy="352.2" r="2.31"/><circle cx="273.42" cy="353.6" r="2.31"/><circle cx="279.4" cy="370.8" r="2.31"/><circle cx="288.35" cy="365.6" r="2.31"/><circle cx="291.34" cy="376.2" r="2.31"/><circle cx="294.32" cy="374.2" r="2.31"/><circle cx="297.31" cy="377.6" r="2.31"/><circle cx="300.3" cy="386" r="2.31"/><circle cx="303.28" cy="389" r="2.31"/><circle cx="306.27" cy="363" r="2.31"/><circle cx="231.62" cy="425.79" r="2.31"/><circle cx="234.61" cy="425.79" r="2.31"/><circle cx="237.6" cy="425.79" r="2.31"/><circle cx="252.52" cy="425.79" r="2.31"/><circle cx="255.51" cy="425.79" r="2.31"/><circle cx="258.5" cy="425.79" r="2.31"/><circle cx="261.48" cy="425.79" r="2.31"/><circle cx="264.47" cy="425.79" r="2.31"/><circle cx="276.41" cy="425.79" r="2.31"/><circle cx="282.38" cy="425.79" r="2.31"/><circle cx="285.37" cy="425.79" r="2.31"/></g>
<polyline points="195.8,334.15 198.78,334.15 201.77,334.15 204.75,334.15 207.74,334.15 210.72,334.15 213.71,334.15 216.7,334.15 219.68,334.15 222.67,334.15 225.65,334.15 228.64,334.15 231.62,336.42 234.61,338.7 237.6,340.97 240.58,343.25 243.57,345.53 246.55,347.8 249.54,350.08 252.52,352.36 255.51,354.65 258.5,356.97 261.48,359.33 264.47,361.68 267.45,363.96 270.44,366.15 273.42,368.22 276.41,370.15 279.4,371.85 282.38,373.25 285.37,374.45 288.35,375.45 291.34,376.45 294.32,377.05 297.31,377.65 300.3,378.15 303.28,378.55 306.27,378.75 309.25,378.75 312.24,378.75 315.22,378.75" stroke="#000" stroke-width="1.07" fill="none" stroke-linejoin="round"/>
<polyline points="195.8,321.72 198.78,323.66 201.77,325.6 204.75,327.55 207.74,329.49 210.72,331.44 213.71,333.38 216.7,335.32 219.68,337.27 222.67,339.21 225.65,341.16 228.64,343.1 231.62,345.04 234.61,346.99 237.6,348.93 240.58,350.88 243.57,352.82 246.55,354.76 249.54,356.71 252.52,358.65 255.51,360.6 258.5,362.54 261.48,364.48 264.47,366.43 267.45,368.37 270.44,370.32 273.42,372.26 276.41,374.2 279.4,376.15 282.38,378.09 285.37,380.04 288.35,381.98 291.34,383.92 294.32,385.87 297.31,387.81 300.3,389.76 303.28,391.7 306.27,393.64 309.25,395.59 312.24,397.53 315.22,399.48" stroke="#f00" stroke-width="1.07" fill="none" stroke-linejoin="round"/>
<rect x="189.82" y="307.19" width="131.37" height="118.6" fill="none" stroke="#333" stroke-width="1.07"/>
</g>
<g clip-path="url(#s9)"><rect x="189.82" y="289.44" width="131.37" height="17.75" fill="#d9d9d9" stroke="#333" stroke-width="1.07"/></g>
<text x="255.51" y="302" font-size="8.8" fill="#1a1a1a" text-anchor="middle">G2C</text>
<g clip-path="url(#p10)">
<path d="M347.45 307.19V425.79M377.31 307.19V425.79M407.16 307.19V425.79M437.02 307.19V425.79M326.55 331.88H457.92M326.55 370.76H457.92M326.55 409.64H457.92" stroke="#ebebeb" stroke-width="0.53" fill="none"/>
<path d="M332.52 307.19V425.79M362.38 307.19V425.79M392.24 307.19V425.79M422.09 307.19V425.79M451.95 307.19V425.79M326.55 312.44H457.92M326.55 351.32H457.92M326.55 390.2H457.92" stroke="#ebebeb" stroke-width="1.07" fill="none"/>
<g fill="#666"><circle cx="365.36" cy="313" r="2.31"/><circle cx="377.31" cy="321.6" r="2.31"/><circle cx="380.29" cy="314.4" r="2.31"/><circle cx="386.26" cy="312.6" r="2.31"/><circle cx="389.25" cy="316.4" r="2.31"/><circle cx="392.24" cy="312.6" r="2.31"/><circle cx="395.22" cy="314.4" r="2.31"/><circle cx="398.21" cy="313.4" r="2.31"/><circle cx="401.19" cy="323.4" r="2.31"/><circle cx="404.18" cy="312.6" r="2.31"/><circle cx="407.16" cy="312.6" r="2.31"/><circle cx="410.15" cy="313.8" r="2.31"/><circle cx="413.13" cy="312.7" r="2.31"/><circle cx="416.12" cy="312.7" r="2.31"/><circle cx="419.11" cy="312.7" r="2.31"/><circle cx="422.09" cy="312.7" r="2.31"/><circle cx="425.08" cy="312.7" r="2.31"/><circle cx="428.06" cy="312.7" r="2.31"/><circle cx="431.05" cy="312.7" r="2.31"/><circle cx="434.03" cy="312.7" r="2.31"/><circle cx="437.02" cy="312.7" r="2.31"/><circle cx="440.01" cy="312.7" r="2.31"/><circle cx="442.99" cy="312.7" r="2.31"/><circle cx="368.35" cy="425.79" r="2.31"/><circle cx="371.34" cy="425.79" r="2.31"/><circle cx="374.32" cy="425.79" r="2.31"/><circle cx="383.28" cy="425.79" r="2.31"/></g>
<polyline points="332.52,315.75 335.51,315.75 338.49,315.75 341.48,315.75 344.46,315.75 347.45,315.75 350.44,315.75 353.42,315.75 356.41,315.75 359.39,315.75 362.38,315.75 365.36,315.75 368.35,315.35 371.34,314.85 374.32,314.35 377.31,313.95 380.29,313.65 383.28,313.35 386.26,313.15 389.25,313.05 392.24,313 395.22,313 398.21,312.99 401.19,312.99 404.18,312.98 407.16,312.98 410.15,312.97 413.13,312.96 416.12,312.96 419.11,312.95 422.09,312.95 425.08,312.94 428.06,312.94 431.05,312.94 434.03,312.93 437.02,312.92 440.01,312.92 442.99,312.91 445.98,312.91 448.96,312.9 451.95,312.9" stroke="#000" stroke-width="1.07" fill="none" stroke-linejoin="round"/>
<polyline points="332.52,425.79 335.51,325.79 338.49,320.86 341.48,318.31 344.46,316.73 347.45,315.65 350.44,314.88 353.42,314.32 356.41,313.9 359.39,313.58 362.38,313.33 365.36,313.14 368.35,312.99 371.34,312.87 374.32,312.78 377.31,312.71 380.29,312.65 383.28,312.61 386.26,312.57 389.25,312.55 392.24,312.52 395.22,312.51 398.21,312.49 401.19,312.48 404.18,312.47 407.16,312.47 410.15,312.46 413.13,312.46 416.12,312.45 419.11,312.45 422.09,312.45 425.08,312.45 428.06,312.45 431.05,312.44 434.03,312.44 437.02,312.44 440.01,312.44 442.99,312.44 445.98,312.44 448.96,312.44 451.95,312.44" stroke="#f00" stroke-width="1.07" fill="none" stroke-linejoin="round"/>
<rect x="326.55" y="307.19" width="131.37" height="118.6" fill="none" stroke="#333" stroke-width="1.07"/>
</g>
<g clip-path="url(#s10)"><rect x="326.55" y="289.44" width="131.37" height="17.75" fill="#d9d9d9" stroke="#333" stroke-width="1.07"/></g>
<text x="392.24" y="302" font-size="8.8" fill="#1a1a1a" text-anchor="middle">G2G</text>
<g clip-path="url(#p11)">
<path d="M484.17 307.19V425.79M514.03 307.19V425.79M543.89 307.19V425.79M573.75 307.19V425.79M463.27 331.88H594.64M463.27 370.76H594.64M463.27 409.64H594.64" stroke="#ebebeb" stroke-width="0.53" fill="none"/>
<path d="M469.25 307.19V425.79M499.1 307.19V425.79M528.96 307.19V425.79M558.82 307.19V425.79M588.67 307.19V425.79M463.27 312.44H594.64M463.27 351.32H594.64M463.27 390.2H594.64" stroke="#ebebeb" stroke-width="1.07" fill="none"/>
<g fill="#666"><circle cx="502.09" cy="334.8" r="2.31"/><circle cx="505.07" cy="312.6" r="2.31"/><circle cx="508.06" cy="312.6" r="2.31"/><circle cx="511.05" cy="312.6" r="2.31"/><circle cx="514.03" cy="319.6" r="2.31"/><circle cx="517.02" cy="333.4" r="2.31"/><circle cx="522.99" cy="351" r="2.31"/><circle cx="525.97" cy="320.8" r="2.31"/><circle cx="528.96" cy="344.4" r="2.31"/><circle cx="531.95" cy="336.8" r="2.31"/><circle cx="540.9" cy="359" r="2.31"/><circle cx="543.89" cy="352.4" r="2.31"/><circle cx="549.86" cy="361" r="2.31"/><circle cx="552.85" cy="366.2" r="2.31"/><circle cx="555.83" cy="372.8" r="2.31"/><circle cx="561.8" cy="367.6" r="2.31"/><circle cx="564.79" cy="388.6" r="2.31"/><circle cx="567.77" cy="378.2" r="2.31"/><circle cx="570.76" cy="392.4" r="2.31"/><circle cx="573.75" cy="407.4" r="2.31"/><circle cx="576.73" cy="420.6" r="2.31"/><circle cx="579.72" cy="367.8" r="2.31"/><circle cx="520" cy="425.79" r="2.31"/><circle cx="534.93" cy="425.79" r="2.31"/><circle cx="537.92" cy="425.79" r="2.31"/><circle cx="546.87" cy="425.79" r="2.31"/><circle cx="558.82" cy="425.79" r="2.31"/></g>
<polyline points="469.25,325.45 472.23,325.45 475.22,325.45 478.2,325.45 481.19,325.45 484.17,325.45 487.16,325.45 490.15,325.45 493.13,325.45 496.12,325.45 499.1,325.45 502.09,325.45 505.07,326.9 508.06,328.45 511.05,330.09 514.03,331.85 517.02,333.77 520,335.85 522.99,338.06 525.97,340.4 528.96,342.85 531.95,345.43 534.93,348.15 537.92,350.99 540.9,353.96 543.89,357.05 546.87,360.34 549.86,363.75 552.85,367.18 555.83,370.65 558.82,374.15 561.8,377.71 564.79,381.25 567.77,384.69 570.76,388.08 573.75,391.45 576.73,394.81 579.72,398.15 582.7,398.15 585.69,398.15 588.67,398.15" stroke="#000" stroke-width="1.07" fill="none" stroke-linejoin="round"/>
<polyline points="469.25,321.72 472.23,323.66 475.22,325.6 478.2,327.55 481.19,329.49 484.17,331.44 487.16,333.38 490.15,335.32 493.13,337.27 496.12,339.21 499.1,341.16 502.09,343.1 505.07,345.04 508.06,346.99 511.05,348.93 514.03,350.88 517.02,352.82 520,354.76 522.99,356.71 525.97,358.65 528.96,360.6 531.95,362.54 534.93,364.48 537.92,366.43 540.9,368.37 543.89,370.32 546.87,372.26 549.86,374.2 552.85,376.15 555.83,378.09 558.82,380.04 561.8,381.98 564.79,383.92 567.77,385.87 570.76,387.81 573.75,389.76 576.73,391.7 579.72,393.64 582.7,395.59 585.69,397.53 588.67,399.48" stroke="#f00" stroke-width="1.07" fill="none" stroke-linejoin="round"/>
<rect x="463.27" y="307.19" width="131.37" height="118.6" fill="none" stroke="#333" stroke-width="1.07"/>
</g>
<g clip-path="url(#s11)"><rect x="463.27" y="289.44" width="131.37" height="17.75" fill="#d9d9d9" stroke="#333" stroke-width="1.07"/></g>
<text x="528.96" y="302" font-size="8.8" fill="#1a1a1a" text-anchor="middle">G2T</text>
<g clip-path="url(#p12)">
<path d="M74 449.16V567.76M103.86 449.16V567.76M133.71 449.16V567.76M163.57 449.16V567.76M53.1 473.85H184.47M53.1 512.73H184.47M53.1 551.61H184.47" stroke="#ebebeb" stroke-width="0.53" fill="none"/>
<path d="M59.07 449.16V567.76M88.93 449.16V567.76M118.78 449.16V567.76M148.64 449.16V567.76M178.5 449.16V567.76M53.1 454.41H184.47M53.1 493.29H184.47M53.1 532.17H184.47" stroke="#ebebeb" stroke-width="1.07" fill="none"/>
<g fill="#666"><circle cx="91.91" cy="480.6" r="2.31"/><circle cx="103.86" cy="500.2" r="2.31"/><circle cx="106.84" cy="493.2" r="2.31"/><circle cx="112.81" cy="496.4" r="2.31"/><circle cx="115.8" cy="501.2" r="2.31"/><circle cx="118.78" cy="500.2" r="2.31"/><circle cx="121.77" cy="497.4" r="2.31"/><circle cx="130.73" cy="501.4" r="2.31"/><circle cx="133.71" cy="494" r="2.31"/><circle cx="139.68" cy="512" r="2.31"/><circle cx="142.67" cy="512.4" r="2.31"/><circle cx="145.66" cy="525.6" r="2.31"/><circle cx="148.64" cy="538.2" r="2.31"/><circle cx="151.63" cy="509.8" r="2.31"/><circle cx="154.61" cy="526" r="2.31"/><circle cx="157.6" cy="521.4" r="2.31"/><circle cx="160.58" cy="529.2" r="2.31"/><circle cx="163.57" cy="533" r="2.31"/><circle cx="166.56" cy="552.6" r="2.31"/><circle cx="169.54" cy="505.6" r="2.31"/><circle cx="94.9" cy="567.76" r="2.31"/><circle cx="97.89" cy="567.76" r="2.31"/><circle cx="100.87" cy="567.76" r="2.31"/><circle cx="109.83" cy="567.76" r="2.31"/><circle cx="124.76" cy="567.76" r="2.31"/><circle cx="127.74" cy="567.76" r="2.31"/><circle cx="136.7" cy="567.76" r="2.31"/></g>
<polyline points="59.07,500.45 62.06,500.45 65.04,500.45 68.03,500.45 71.01,500.45 74,500.45 76.99,500.45 79.97,500.45 82.96,500.45 85.94,500.45 88.93,500.45 91.91,500.45 94.9,500.9 97.89,501.45 100.87,502.11 103.86,502.85 106.84,503.63 109.83,504.45 112.81,505.31 115.8,506.21 118.78,507.15 121.77,508.11 124.76,509.15 127.74,510.29 130.73,511.53 133.71,512.85 136.7,514.31 139.68,515.85 142.67,517.37 145.66,518.91 148.64,520.45 151.63,522.01 154.61,523.55 157.6,525.02 160.58,526.45 163.57,527.85 166.56,529.22 169.54,530.55 172.53,530.55 175.51,530.55 178.5,530.55" stroke="#000" stroke-width="1.07" fill="none" stroke-linejoin="round"/>
<polyline points="59.07,463.69 62.06,465.63 65.04,467.57 68.03,469.52 71.01,471.46 74,473.41 76.99,475.35 79.97,477.29 82.96,479.24 85.94,481.18 88.93,483.13 91.91,485.07 94.9,487.01 97.89,488.96 100.87,490.9 103.86,492.85 106.84,494.79 109.83,496.73 112.81,498.68 115.8,500.62 118.78,502.57 121.77,504.51 124.76,506.45 127.74,508.4 130.73,510.34 133.71,512.29 136.7,514.23 139.68,516.17 142.67,518.12 145.66,520.06 148.64,522.01 151.63,523.95 154.61,525.89 157.6,527.84 160.58,529.78 163.57,531.73 166.56,533.67 169.54,535.61 172.53,537.56 175.51,539.5 178.5,541.45" stroke="#f00" stroke-width="1.07" fill="none" stroke-linejoin="round"/>
<rect x="53.1" y="449.16" width="131.37" height="118.6" fill="none" stroke="#333" stroke-width="1.07"/>
</g>
<g clip-path="url(#s12)"><rect x="53.1" y="431.41" width="131.37" height="17.75" fill="#d9d9d9" stroke="#333" stroke-width="1.07"/></g>
<text x="118.78" y="444" font-size="8.8" fill="#1a1a1a" text-anchor="middle">T2A</text>
<text x="47.45" y="458" font-size="8.8" fill="#4d4d4d" text-anchor="end" textLength="29.28" lengthAdjust="spacing">1e+00</text>
<text x="47.8" y="497" font-size="8.8" fill="#4d4d4d" text-anchor="end">1e-02</text>
<text x="47.8" y="536" font-size="8.8" fill="#4d4d4d" text-anchor="end">1e-04</text>
<path d="M50.35 454.41H53.1M50.35 493.29H53.1M50.35 532.17H53.1" stroke="#333" stroke-width="1.2" fill="none"/>
<text x="59.07" y="580" font-size="8.8" fill="#4d4d4d" text-anchor="middle">0</text>
<text x="88.93" y="580" font-size="8.8" fill="#4d4d4d" text-anchor="middle">10</text>
<text x="118.78" y="580" font-size="8.8" fill="#4d4d4d" text-anchor="middle">20</text>
<text x="148.64" y="580" font-size="8.8" fill="#4d4d4d" text-anchor="middle">30</text>
<text x="178.5" y="580" font-size="8.8" fill="#4d4d4d" text-anchor="middle">40</text>
<path d="M59.07 567.76V570.96M88.93 567.76V570.96M118.78 567.76V570.96M148.64 567.76V570.96M178.5 567.76V570.96" stroke="#333" stroke-width="1.2" fill="none"/>
<g clip-path="url(#p13)">
<path d="M210.72 449.16V567.76M240.58 449.16V567.76M270.44 449.16V567.76M300.3 449.16V567.76M189.82 473.85H321.19M189.82 512.73H321.19M189.82 551.61H321.19" stroke="#ebebeb" stroke-width="0.53" fill="none"/>
<path d="M195.8 449.16V567.76M225.65 449.16V567.76M255.51 449.16V567.76M285.37 449.16V567.76M315.22 449.16V567.76M189.82 454.41H321.19M189.82 493.29H321.19M189.82 532.17H321.19" stroke="#ebebeb" stroke-width="1.07" fill="none"/>
<g fill="#666"><circle cx="228.64" cy="491.6" r="2.31"/><circle cx="249.54" cy="508" r="2.31"/><circle cx="255.51" cy="519.2" r="2.31"/><circle cx="267.45" cy="505" r="2.31"/><circle cx="270.44" cy="493.4" r="2.31"/><circle cx="279.4" cy="512" r="2.31"/><circle cx="282.38" cy="519.2" r="2.31"/><circle cx="285.37" cy="538.2" r="2.31"/><circle cx="288.35" cy="506.6" r="2.31"/><circle cx="291.34" cy="525.8" r="2.31"/><circle cx="294.32" cy="513.8" r="2.31"/><circle cx="297.31" cy="521.4" r="2.31"/><circle cx="300.3" cy="528" r="2.31"/><circle cx="303.28" cy="535.4" r="2.31"/><circle cx="306.27" cy="498.6" r="2.31"/><circle cx="231.62" cy="567.76" r="2.31"/><circle cx="234.61" cy="567.76" r="2.31"/><circle cx="237.6" cy="567.76" r="2.31"/><circle cx="240.58" cy="567.76" r="2.31"/><circle cx="243.57" cy="567.76" r="2.31"/><circle cx="246.55" cy="567.76" r="2.31"/><circle cx="252.52" cy="567.76" r="2.31"/><circle cx="258.5" cy="567.76" r="2.31"/><circle cx="261.48" cy="567.76" r="2.31"/><circle cx="264.47" cy="567.76" r="2.31"/><circle cx="273.42" cy="567.76" r="2.31"/><circle cx="276.41" cy="567.76" r="2.31"/></g>
<polyline points="195.8,507.15 198.78,507.15 201.77,507.15 204.75,507.15 207.74,507.15 210.72,507.15 213.71,507.15 216.7,507.15 219.68,507.15 222.67,507.15 225.65,507.15 228.64,507.15 231.62,508.77 234.61,510.25 237.6,511.62 240.58,512.85 243.57,513.91 246.55,514.85 249.54,515.69 252.52,516.45 255.51,517.15 258.5,517.79 261.48,518.35 264.47,518.83 267.45,519.26 270.44,519.65 273.42,520.05 276.41,520.35 279.4,520.54 282.38,520.69 285.37,520.75 288.35,520.66 291.34,520.45 294.32,520.06 297.31,519.47 300.3,518.85 303.28,518.26 306.27,517.65 309.25,517.65 312.24,517.65 315.22,517.65" stroke="#000" stroke-width="1.07" fill="none" stroke-linejoin="round"/>
<polyline points="195.8,463.69 198.78,465.63 201.77,467.57 204.75,469.52 207.74,471.46 210.72,473.41 213.71,475.35 216.7,477.29 219.68,479.24 222.67,481.18 225.65,483.13 228.64,485.07 231.62,487.01 234.61,488.96 237.6,490.9 240.58,492.85 243.57,494.79 246.55,496.73 249.54,498.68 252.52,500.62 255.51,502.57 258.5,504.51 261.48,506.45 264.47,508.4 267.45,510.34 270.44,512.29 273.42,514.23 276.41,516.17 279.4,518.12 282.38,520.06 285.37,522.01 288.35,523.95 291.34,525.89 294.32,527.84 297.31,529.78 300.3,531.73 303.28,533.67 306.27,535.61 309.25,537.56 312.24,539.5 315.22,541.45" stroke="#f00" stroke-width="1.07" fill="none" stroke-linejoin="round"/>
<rect x="189.82" y="449.16" width="131.37" height="118.6" fill="none" stroke="#333" stroke-width="1.07"/>
</g>
<g clip-path="url(#s13)"><rect x="189.82" y="431.41" width="131.37" height="17.75" fill="#d9d9d9" stroke="#333" stroke-width="1.07"/></g>
<text x="255.51" y="444" font-size="8.8" fill="#1a1a1a" text-anchor="middle">T2C</text>
<text x="195.8" y="580" font-size="8.8" fill="#4d4d4d" text-anchor="middle">0</text>
<text x="225.65" y="580" font-size="8.8" fill="#4d4d4d" text-anchor="middle">10</text>
<text x="255.51" y="580" font-size="8.8" fill="#4d4d4d" text-anchor="middle">20</text>
<text x="285.37" y="580" font-size="8.8" fill="#4d4d4d" text-anchor="middle">30</text>
<text x="315.22" y="580" font-size="8.8" fill="#4d4d4d" text-anchor="middle">40</text>
<path d="M195.8 567.76V570.96M225.65 567.76V570.96M255.51 567.76V570.96M285.37 567.76V570.96M315.22 567.76V570.96" stroke="#333" stroke-width="1.2" fill="none"/>
<g clip-path="url(#p14)">
<path d="M347.45 449.16V567.76M377.31 449.16V567.76M407.16 449.16V567.76M437.02 449.16V567.76M326.55 473.85H457.92M326.55 512.73H457.92M326.55 551.61H457.92" stroke="#ebebeb" stroke-width="0.53" fill="none"/>
<path d="M332.52 449.16V567.76M362.38 449.16V567.76M392.24 449.16V567.76M422.09 449.16V567.76M451.95 449.16V567.76M326.55 454.41H457.92M326.55 493.29H457.92M326.55 532.17H457.92" stroke="#ebebeb" stroke-width="1.07" fill="none"/>
<g fill="#666"><circle cx="365.36" cy="470.4" r="2.31"/><circle cx="368.35" cy="454.6" r="2.31"/><circle cx="371.34" cy="454.6" r="2.31"/><circle cx="374.32" cy="455.2" r="2.31"/><circle cx="377.31" cy="458.6" r="2.31"/><circle cx="380.29" cy="469.4" r="2.31"/><circle cx="383.28" cy="468" r="2.31"/><circle cx="386.26" cy="484" r="2.31"/><circle cx="389.25" cy="485.4" r="2.31"/><circle cx="392.24" cy="488.2" r="2.31"/><circle cx="395.22" cy="498.2" r="2.31"/><circle cx="404.18" cy="506" r="2.31"/><circle cx="407.16" cy="489.4" r="2.31"/><circle cx="416.12" cy="524" r="2.31"/><circle cx="419.11" cy="527.2" r="2.31"/><circle cx="425.08" cy="517.4" r="2.31"/><circle cx="428.06" cy="544.8" r="2.31"/><circle cx="431.05" cy="532.4" r="2.31"/><circle cx="434.03" cy="546.4" r="2.31"/><circle cx="437.02" cy="558.8" r="2.31"/><circle cx="442.99" cy="503" r="2.31"/><circle cx="398.21" cy="567.76" r="2.31"/><circle cx="401.19" cy="567.76" r="2.31"/><circle cx="410.15" cy="567.76" r="2.31"/><circle cx="413.13" cy="567.76" r="2.31"/><circle cx="422.09" cy="567.76" r="2.31"/><circle cx="440.01" cy="567.76" r="2.31"/></g>
<polyline points="332.52,466.45 335.51,466.45 338.49,466.45 341.48,466.45 344.46,466.45 347.45,466.45 350.44,466.45 353.42,466.45 356.41,466.45 359.39,466.45 362.38,466.45 365.36,466.45 368.35,466.45 371.34,466.45 374.32,466.45 377.31,471.15 380.29,475.85 383.28,480.54 386.26,485.25 389.25,490.01 392.24,494.85 395.22,499.85 398.21,504.47 401.19,508.95 404.18,513.52 407.16,517.95 410.15,522.1 413.13,525.95 416.12,529.35 419.11,532.45 422.09,535.25 425.08,537.55 428.06,539.55 431.05,541.15 434.03,542.45 437.02,543.45 440.01,544.15 442.99,544.55 445.98,544.55 448.96,544.55 451.95,544.55" stroke="#000" stroke-width="1.07" fill="none" stroke-linejoin="round"/>
<polyline points="332.52,463.69 335.51,465.63 338.49,467.57 341.48,469.52 344.46,471.46 347.45,473.41 350.44,475.35 353.42,477.29 356.41,479.24 359.39,481.18 362.38,483.13 365.36,485.07 368.35,487.01 371.34,488.96 374.32,490.9 377.31,492.85 380.29,494.79 383.28,496.73 386.26,498.68 389.25,500.62 392.24,502.57 395.22,504.51 398.21,506.45 401.19,508.4 404.18,510.34 407.16,512.29 410.15,514.23 413.13,516.17 416.12,518.12 419.11,520.06 422.09,522.01 425.08,523.95 428.06,525.89 431.05,527.84 434.03,529.78 437.02,531.73 440.01,533.67 442.99,535.61 445.98,537.56 448.96,539.5 451.95,541.45" stroke="#f00" stroke-width="1.07" fill="none" stroke-linejoin="round"/>
<rect x="326.55" y="449.16" width="131.37" height="118.6" fill="none" stroke="#333" stroke-width="1.07"/>
</g>
<g clip-path="url(#s14)"><rect x="326.55" y="431.41" width="131.37" height="17.75" fill="#d9d9d9" stroke="#333" stroke-width="1.07"/></g>
<text x="392.24" y="444" font-size="8.8" fill="#1a1a1a" text-anchor="middle">T2G</text>
<text x="332.52" y="580" font-size="8.8" fill="#4d4d4d" text-anchor="middle">0</text>
<text x="362.38" y="580" font-size="8.8" fill="#4d4d4d" text-anchor="middle">10</text>
<text x="392.24" y="580" font-size="8.8" fill="#4d4d4d" text-anchor="middle">20</text>
<text x="422.09" y="580" font-size="8.8" fill="#4d4d4d" text-anchor="middle">30</text>
<text x="451.95" y="580" font-size="8.8" fill="#4d4d4d" text-anchor="middle">40</text>
<path d="M332.52 567.76V570.96M362.38 567.76V570.96M392.24 567.76V570.96M422.09 567.76V570.96M451.95 567.76V570.96" stroke="#333" stroke-width="1.2" fill="none"/>
<g clip-path="url(#p15)">
<path d="M484.17 449.16V567.76M514.03 449.16V567.76M543.89 449.16V567.76M573.75 449.16V567.76M463.27 473.85H594.64M463.27 512.73H594.64M463.27 551.61H594.64" stroke="#ebebeb" stroke-width="0.53" fill="none"/>
<path d="M469.25 449.16V567.76M499.1 449.16V567.76M528.96 449.16V567.76M558.82 449.16V567.76M588.67 449.16V567.76M463.27 454.41H594.64M463.27 493.29H594.64M463.27 532.17H594.64" stroke="#ebebeb" stroke-width="1.07" fill="none"/>
<g fill="#666"><circle cx="502.09" cy="456.8" r="2.31"/><circle cx="508.06" cy="496" r="2.31"/><circle cx="511.05" cy="476.4" r="2.31"/><circle cx="514.03" cy="462.8" r="2.31"/><circle cx="517.02" cy="456.2" r="2.31"/><circle cx="520" cy="456.8" r="2.31"/><circle cx="522.99" cy="454.6" r="2.31"/><circle cx="525.97" cy="454.6" r="2.31"/><circle cx="528.96" cy="454.6" r="2.31"/><circle cx="531.95" cy="454.6" r="2.31"/><circle cx="534.93" cy="454.6" r="2.31"/><circle cx="537.92" cy="454.6" r="2.31"/><circle cx="540.9" cy="454.6" r="2.31"/><circle cx="543.89" cy="454.6" r="2.31"/><circle cx="546.87" cy="454.6" r="2.31"/><circle cx="549.86" cy="454.6" r="2.31"/><circle cx="552.85" cy="454.6" r="2.31"/><circle cx="555.83" cy="454.6" r="2.31"/><circle cx="558.82" cy="454.6" r="2.31"/><circle cx="561.8" cy="454.6" r="2.31"/><circle cx="564.79" cy="454.6" r="2.31"/><circle cx="567.77" cy="454.6" r="2.31"/><circle cx="570.76" cy="454.6" r="2.31"/><circle cx="573.75" cy="454.6" r="2.31"/><circle cx="576.73" cy="454.6" r="2.31"/><circle cx="579.72" cy="454.6" r="2.31"/><circle cx="505.07" cy="567.76" r="2.31"/></g>
<polyline points="469.25,457 472.23,457 475.22,457 478.2,457 481.19,457 484.17,457 487.16,457 490.15,457 493.13,457 496.12,457 499.1,457 502.09,457 505.07,456.85 508.06,456.65 511.05,456.25 514.03,455.75 517.02,455.35 520,455.1 522.99,455 525.97,455 528.96,454.99 531.95,454.99 534.93,454.98 537.92,454.98 540.9,454.97 543.89,454.97 546.87,454.96 549.86,454.96 552.85,454.95 555.83,454.95 558.82,454.95 561.8,454.94 564.79,454.94 567.77,454.93 570.76,454.93 573.75,454.92 576.73,454.92 579.72,454.91 582.7,454.91 585.69,454.9 588.67,454.9" stroke="#000" stroke-width="1.07" fill="none" stroke-linejoin="round"/>
<polyline points="469.25,567.76 472.23,467.76 475.22,462.83 478.2,460.28 481.19,458.7 484.17,457.62 487.16,456.85 490.15,456.29 493.13,455.87 496.12,455.55 499.1,455.3 502.09,455.11 505.07,454.96 508.06,454.84 511.05,454.75 514.03,454.68 517.02,454.62 520,454.58 522.99,454.54 525.97,454.52 528.96,454.49 531.95,454.48 534.93,454.46 537.92,454.45 540.9,454.44 543.89,454.44 546.87,454.43 549.86,454.43 552.85,454.42 555.83,454.42 558.82,454.42 561.8,454.42 564.79,454.42 567.77,454.41 570.76,454.41 573.75,454.41 576.73,454.41 579.72,454.41 582.7,454.41 585.69,454.41 588.67,454.41" stroke="#f00" stroke-width="1.07" fill="none" stroke-linejoin="round"/>
<rect x="463.27" y="449.16" width="131.37" height="118.6" fill="none" stroke="#333" stroke-width="1.07"/>
</g>
<g clip-path="url(#s15)"><rect x="463.27" y="431.41" width="131.37" height="17.75" fill="#d9d9d9" stroke="#333" stroke-width="1.07"/></g>
<text x="528.96" y="444" font-size="8.8" fill="#1a1a1a" text-anchor="middle">T2T</text>
<text x="469.25" y="580" font-size="8.8" fill="#4d4d4d" text-anchor="middle">0</text>
<text x="499.1" y="580" font-size="8.8" fill="#4d4d4d" text-anchor="middle">10</text>
<text x="528.96" y="580" font-size="8.8" fill="#4d4d4d" text-anchor="middle">20</text>
<text x="558.82" y="580" font-size="8.8" fill="#4d4d4d" text-anchor="middle">30</text>
<text x="588.67" y="580" font-size="8.8" fill="#4d4d4d" text-anchor="middle">40</text>
<path d="M469.25 567.76V570.96M499.1 567.76V570.96M528.96 567.76V570.96M558.82 567.76V570.96M588.67 567.76V570.96" stroke="#333" stroke-width="1.2" fill="none"/>
<text x="323.55" y="593" font-size="11" fill="#000" text-anchor="middle" textLength="134.9" lengthAdjust="spacing">Consensus quality score</text>
<text transform="translate(13.7 295.11) rotate(-90)" font-size="11" fill="#000" text-anchor="middle">Error frequency (log10)</text>
</svg></body></html>
